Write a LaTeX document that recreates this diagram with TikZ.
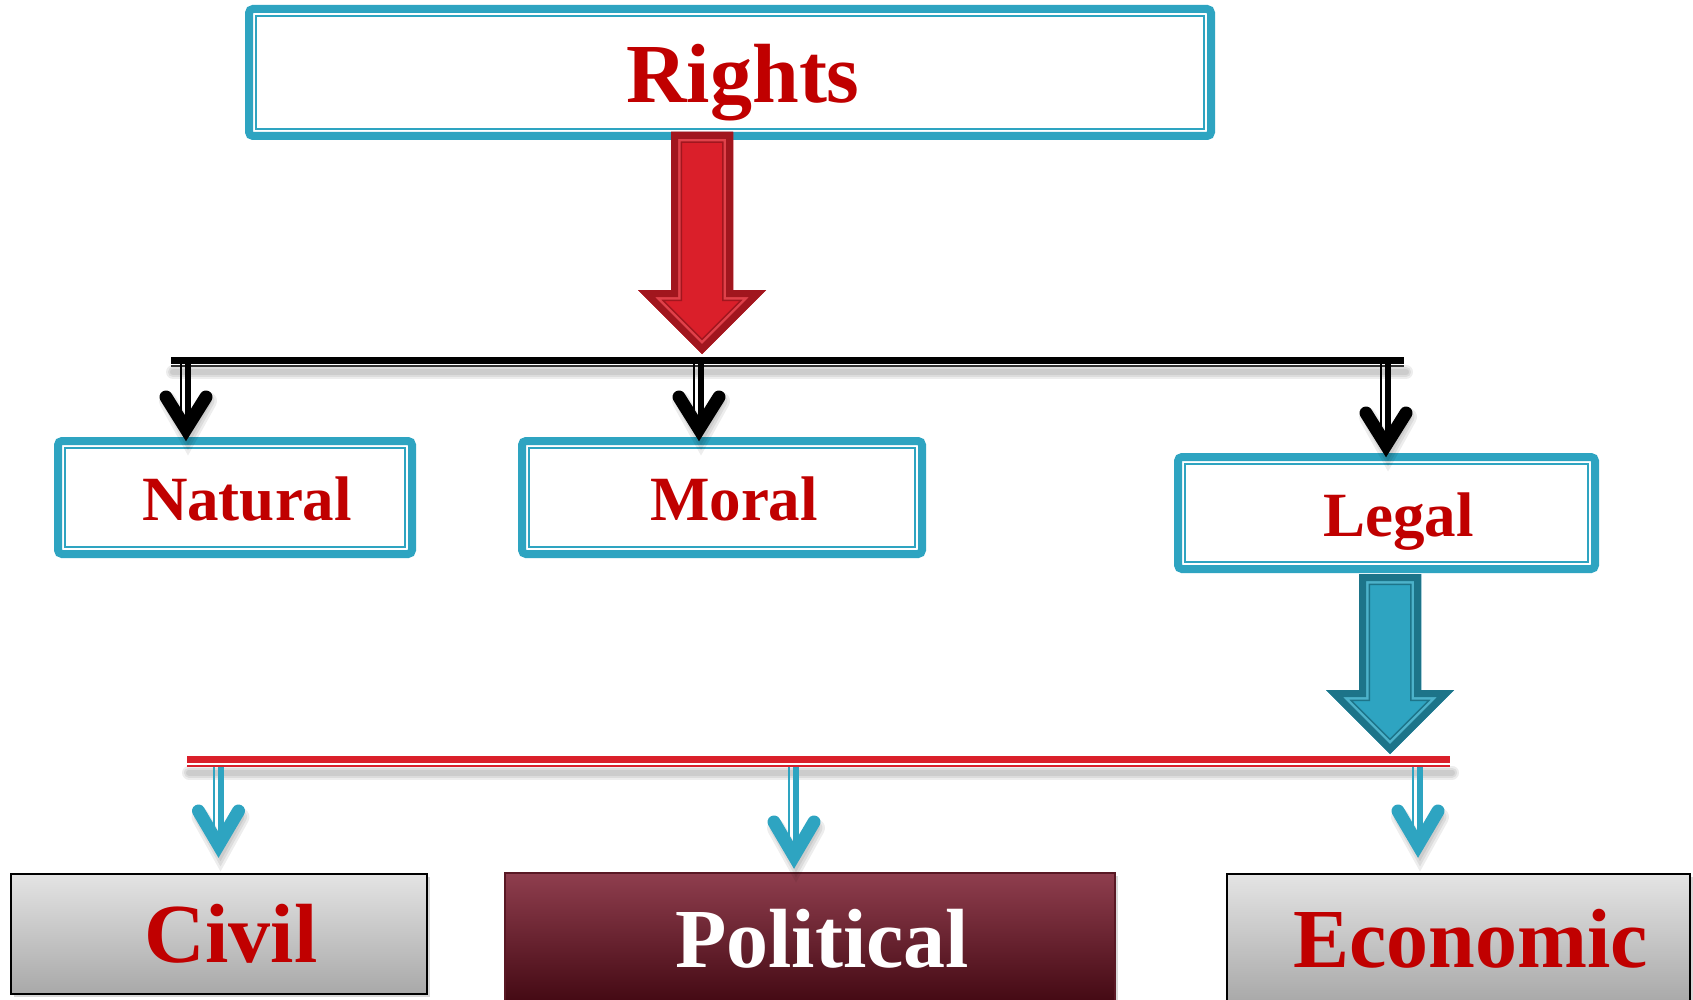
\documentclass[tikz,border=0pt]{standalone}
\usepackage{fontspec}
\setmainfont{Liberation Serif}
\usetikzlibrary{calc,shadows}
\definecolor{teal1}{HTML}{2EA4C1}
\definecolor{tealdark}{HTML}{1D7489}
\definecolor{txtred}{HTML}{C00000}
\definecolor{arred}{HTML}{DA1F2A}
\definecolor{arreddark}{HTML}{A1161E}
\definecolor{grayTop}{HTML}{E4E4E4}
\definecolor{grayBot}{HTML}{A8A8A8}
\definecolor{polTop}{HTML}{8F3E4E}
\definecolor{polBot}{HTML}{420812}
\newcommand{\fancyarrow}[6]{% x, ytop, yshoulder, main, dark, mid
  \def\ap{(#1-31,#2) -- (#1+31,#2) -- (#1+31,#3) -- (#1+64,#3) -- (#1,#3+64) -- (#1-64,#3) -- (#1-31,#3) -- cycle}
  \begin{scope}
    \clip \ap;
    \fill[#4] \ap;
    \draw[#5, line width=22, line join=miter] \ap;
    \draw[#6, line width=19, line join=miter] \ap;
    \draw[#5, line width=14, line join=miter] \ap;
  \end{scope}
}
\tikzset{
  topbox/.style={draw=teal1, line width=8, rounded corners=4, fill=white, inner sep=0, outer sep=0,
     text=txtred, font=\bfseries\fontsize{63}{63}\selectfont, text height=46pt, text depth=0pt},
  graybox/.style={draw=black, line width=2.5, top color=grayTop, bottom color=grayBot, inner sep=0, outer sep=0,
     text=txtred, font=\bfseries\fontsize{84}{84}\selectfont, text height=56pt, text depth=0pt,
     drop shadow={opacity=0.3, shadow xshift=3pt, shadow yshift=-3pt}},
  polbox/.style={draw=polBot!70!polTop, line width=1.2, top color=polTop, bottom color=polBot, inner sep=0, outer sep=0,
     text=white, font=\bfseries\fontsize{84}{84}\selectfont, text height=56pt, text depth=0pt,
     drop shadow={opacity=0.3, shadow xshift=3pt, shadow yshift=-3pt}},
  innerline/.style={draw=teal1, line width=2},
  blackhead/.style={draw=black, line width=13, line cap=round, line join=miter},
  tealhead/.style={draw=teal1, line width=13, line cap=round, line join=miter},
  softshadow/.style={draw=black, opacity=0.07, line cap=round},
}
\begin{document}
\begin{tikzpicture}[x=1pt,y=-1pt]
\useasboundingbox (0,0) rectangle (1693,1000);
\fill[white] (0,0) rectangle (1693,1000);

% top box
\node[topbox, minimum width=962, minimum height=127, font=\bfseries\fontsize{84}{84}\selectfont, text height=61pt] (rights) at (730,72.5) {\hspace*{26pt}Rights};
\draw[innerline] ($(rights.north west)+(7,7)$) rectangle ($(rights.south east)+(-7,-7)$);

% middle boxes
\node[topbox, minimum width=354, minimum height=113] (natural) at (235,497.5) {\hspace*{24pt}Natural};
\draw[innerline] ($(natural.north west)+(7,7)$) rectangle ($(natural.south east)+(-7,-7)$);
\node[topbox, minimum width=400, minimum height=113] (moral) at (722,497.5) {\hspace*{24pt}Moral};
\draw[innerline] ($(moral.north west)+(7,7)$) rectangle ($(moral.south east)+(-7,-7)$);
\node[topbox, minimum width=417, minimum height=112] (legal) at (1386.5,513) {\hspace*{24pt}Legal};
\draw[innerline] ($(legal.north west)+(7,7)$) rectangle ($(legal.south east)+(-7,-7)$);

% bottom boxes
\node[graybox, minimum width=416, minimum height=120] (civil) at (219,934) {\hspace*{24pt}Civil};
\node[polbox, minimum width=610, minimum height=132] (political) at (810,939) {\hspace*{24pt}Political};
\node[graybox, minimum width=463, minimum height=130] (economic) at (1458.5,939) {\hspace*{24pt}Economic};

% big red arrow
\fancyarrow{702}{132}{290}{arred}{arreddark}{arred!85!white}

% black bus
\coordinate (bL) at (171,360);
\coordinate (bR) at (1404,360);
\foreach \w in {6,10,14}{\draw[softshadow, line width=\w] ($(bL)+(2,12)$) -- ($(bR)+(2,12)$);}
\draw[black, line width=7] (bL) -- (bR);
\draw[black!80, line width=1.5] ($(bL)+(0,6)$) -- ($(bR)+(0,6)$);

\foreach \nm/\xx in {natural/186, moral/699, legal/1386}{
  \coordinate (s-\nm) at (\xx,363);
  \coordinate (t-\nm) at (s-\nm |- \nm.north);
  \foreach \w in {8,13,18}{\draw[softshadow, line width=\w] ($(t-\nm)+(-18,-40)$) -- ($(t-\nm)+(2,-4)$) -- ($(t-\nm)+(22,-40)$);}
  \draw[black, line width=2] ($(s-\nm)+(-5,0)$) -- ($(t-\nm)+(-5,-16)$);
  \draw[black, line width=6] ($(s-\nm)+(2,0)$) -- ($(t-\nm)+(2,-16)$);
  \draw[blackhead] ($(t-\nm)+(-20,-44)$) -- ($(t-\nm)+(0,-12)$) -- ($(t-\nm)+(20,-44)$);
}

% teal arrow
\fancyarrow{1390}{574}{690}{teal1}{tealdark}{teal1!85!white}

% red bus
\coordinate (rL) at (187,759.5);
\coordinate (rR) at (1450,759.5);
\foreach \w in {6,10,14}{\draw[softshadow, line width=\w] ($(rL)+(2,13)$) -- ($(rR)+(2,13)$);}
\draw[arred, line width=7] (rL) -- (rR);
\draw[arred, line width=2] ($(rL)+(0,6.5)$) -- ($(rR)+(0,6.5)$);

\foreach \nm/\xx/\tp in {civil/218.5/857, political/794/868, economic/1418/857}{
  \coordinate (s-\nm) at (\xx,767);
  \coordinate (t-\nm) at (\xx,\tp);
  \foreach \w in {8,13,18}{\draw[softshadow, line width=\w] ($(t-\nm)+(-18,-40)$) -- ($(t-\nm)+(2,-4)$) -- ($(t-\nm)+(22,-40)$);}
  \draw[teal1, line width=2] ($(s-\nm)+(-5,0)$) -- ($(t-\nm)+(-5,-16)$);
  \draw[teal1, line width=6] ($(s-\nm)+(2,0)$) -- ($(t-\nm)+(2,-16)$);
  \draw[tealhead] ($(t-\nm)+(-20,-46)$) -- ($(t-\nm)+(0,-12)$) -- ($(t-\nm)+(20,-46)$);
}
\end{tikzpicture}
\end{document}
